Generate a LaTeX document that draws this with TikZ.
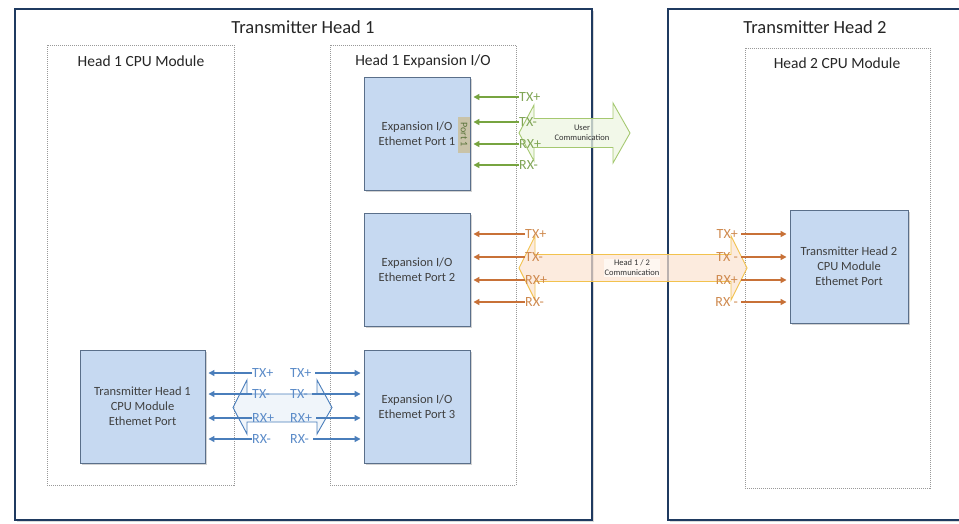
\documentclass[tikz,border=0pt]{standalone}
\usepackage{fontspec}
\setmainfont{Carlito}
\usetikzlibrary{shadows,arrows.meta}

\definecolor{navy}{HTML}{1F3A60}
\definecolor{boxfill}{HTML}{C6D9F1}
\definecolor{boxline}{HTML}{5A6F8A}
\definecolor{sigblue}{HTML}{4A7EBB}
\definecolor{siggreen}{HTML}{77A440}
\definecolor{sigorange}{HTML}{C87137}
\definecolor{txtgreen}{HTML}{80A555}
\definecolor{txtorange}{HTML}{CF8A4F}
\definecolor{txtblue}{HTML}{5B8BC8}
\definecolor{greenfill}{HTML}{EEF6E2}
\definecolor{greenedge}{HTML}{A5C870}
\definecolor{bluefill}{HTML}{E3ECF7}
\definecolor{peach}{HTML}{FCE3D0}
\definecolor{goldedge}{HTML}{F2C24E}
\definecolor{tabfill}{HTML}{C9C3A8}

\begin{document}
\begin{tikzpicture}[x=1pt,y=-1pt,
  outer/.style={draw=navy, line width=2.8pt, fill=white, inner sep=0pt,
    drop shadow={shadow xshift=1.5pt, shadow yshift=-1.5pt, opacity=0.3}},
  group/.style={draw=black!40, dash pattern=on 1pt off 1pt, line width=0.6pt, inner sep=0pt},
  module/.style={draw=boxline, line width=0.9pt, fill=boxfill, align=center,
    font=\fontsize{12.5}{15}\selectfont, text=black!75,
    drop shadow={shadow xshift=2pt, shadow yshift=-2pt, opacity=0.35}},
  title/.style={font=\fontsize{18.5}{20}\selectfont, text=black!85},
  grouptitle/.style={font=\fontsize{15.5}{17}\selectfont, text=black!85},
  sig/.style={-{Triangle[length=6pt,width=6pt]}, line width=1.5pt, shorten >=3pt},
  siglabel/.style={font=\fontsize{14}{15}\selectfont, inner sep=0pt},
  commtext/.style={font=\fontsize{8.5}{10}\selectfont, align=center, text=black!80, inner sep=1pt},
]
\useasboundingbox (0,0) rectangle (959,523);
\clip (0,0) rectangle (959,523);

% outer enclosures
\node[outer, minimum width=577pt, minimum height=511pt] (th1) at (303.5,264.5) {};
\node[outer, minimum width=310pt, minimum height=511pt] (th2) at (823,264.5) {};
\node[title] (th1t) at (303,27) {Transmitter Head 1};
\node[title] (th2t) at (815,27) {Transmitter Head 2};

% dashed module groups
\node[group, minimum width=187pt, minimum height=440pt] (g1) at (140.5,265) {};
\node[group, minimum width=186pt, minimum height=440pt] (g2) at (423,265) {};
\node[group, minimum width=185pt, minimum height=440pt] (g3) at (837.5,268) {};
\node[grouptitle] (g1t) at (141,61) {Head 1 CPU Module};
\node[grouptitle] (g2t) at (423,61) {Head 1 Expansion I/O};
\node[grouptitle] (g3t) at (837,63) {Head 2 CPU Module};

% modules
\node[module, minimum width=106pt, minimum height=113pt] (p1) at (417,133.5) {Expansion I/O\\Ethemet Port 1};
\node[module, minimum width=106pt, minimum height=113pt] (p2) at (417,269.5) {Expansion I/O\\Ethemet Port 2};
\node[module, minimum width=106pt, minimum height=113pt] (p3) at (417,406.5) {Expansion I/O\\Ethemet Port 3};
\node[module, minimum width=125pt, minimum height=113pt] (cpu1) at (142.5,406.5) {Transmitter Head 1\\CPU Module\\Ethemet Port};
\node[module, minimum width=118pt, minimum height=113pt] (cpu2) at (849,266.5) {Transmitter Head 2\\CPU Module\\Ethemet Port};

% port tab on expansion port 1
\node[fill=tabfill, minimum width=12pt, minimum height=36pt, inner sep=0pt] (tab) at (464,134.5) {};
\node[rotate=-90, font=\fontsize{10}{11}\selectfont, text=txtgreen!70!black, inner sep=0pt] (tabt) at (tab.center) {Port 1};

% user communication arrow
\path[draw=greenedge, fill=greenfill, fill opacity=0.75, line width=0.9pt]
  (519,133) -- (534,105) -- (534,118.5) -- (613,118.5) -- (613,103) -- (630,133)
  -- (613,163) -- (613,147.5) -- (534,147.5) -- (534,161) -- cycle;
\node[commtext] (uc) at (582,133) {User\\Communication};

% head 1 / 2 communication arrow
\path[draw=goldedge, fill=peach, fill opacity=0.7, line width=0.9pt]
  (519,268) -- (535,236) -- (535,254.5) -- (731,254.5) -- (731,236) -- (747,268)
  -- (731,300) -- (731,281.5) -- (535,281.5) -- (535,300) -- cycle;
\node[commtext, fill=white, fill opacity=0.6, text opacity=1] (hc) at (632,268) {Head 1 / 2\\Communication};

% local link arrow
\path[draw=sigblue, fill=bluefill, fill opacity=0.5, line width=0.9pt]
  (233,407.5) -- (247,380) -- (247,394) -- (317,394) -- (317,380) -- (332,407.5)
  -- (317,434) -- (317,422) -- (247,422) -- (247,434) -- cycle;

% port 1 signals
\foreach \n/\t/\y in {a/TX+/97, b/TX-/122, c/RX+/144, d/RX-/165}{
  \node[siglabel, text=txtgreen, anchor=west] (g\n) at (519,\y) {\t};
  \draw[sig, siggreen] (g\n.west) -- (g\n.west -| p1.east);
}

% port 2 signals
\foreach \n/\t/\y in {a/TX+/234, b/TX-/257, c/RX+/280, d/RX-/302}{
  \node[siglabel, text=txtorange, anchor=west] (o\n) at (525,\y) {\t};
  \draw[sig, sigorange] (o\n.west) -- (o\n.west -| p2.east);
}

% head 2 CPU signals
\foreach \n/\t/\y in {a/TX+/234, b/TX -/257, c/RX+/280, d/RX -/302}{
  \node[siglabel, text=txtorange, anchor=east] (r\n) at (738,\y) {\t};
  \draw[sig, sigorange] ([xshift=3pt]r\n.east) -- (r\n.east -| cpu2.west);
}

% head 1 CPU signals
\foreach \n/\t/\y in {a/TX+/373, b/TX-/394, c/RX+/418, d/RX-/439}{
  \node[siglabel, text=txtblue, anchor=west] (bl\n) at (252,\y) {\t};
  \draw[sig, sigblue, line width=1.2pt] (bl\n.west) -- (bl\n.west -| cpu1.east);
}

% expansion port 3 signals
\foreach \n/\t/\y in {a/TX+/373, b/TX-/394, c/RX+/418, d/RX-/439}{
  \node[siglabel, text=txtblue, anchor=west] (br\n) at (290,\y) {\t};
  \draw[sig, sigblue] ([xshift=4pt]br\n.east) -- (br\n.east -| p3.west);
}
\end{tikzpicture}
\end{document}
